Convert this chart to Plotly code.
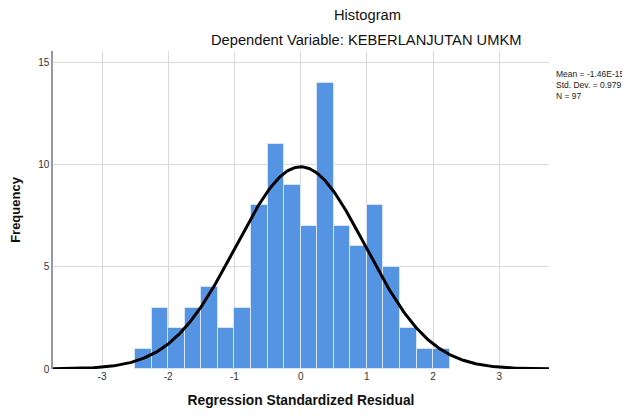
import numpy as np
import plotly.graph_objects as go

# Data
bin_starts = [-2.5, -2.25, -2.0, -1.75, -1.5, -1.25, -1.0, -0.75, -0.5, -0.25,
              0.0, 0.25, 0.5, 0.75, 1.0, 1.25, 1.5, 1.75, 2.0]
counts = [1, 3, 2, 3, 4, 2, 3, 8, 11, 9, 7, 14, 7, 6, 8, 5, 2, 1, 1]
bin_width = 0.25
mean_val = -1.46e-15
std_dev = 0.979
n_obs = 97
x_ticks = [-3, -2, -1, 0, 1, 2, 3]
y_ticks = [0, 5, 10, 15]

centers = [b + bin_width / 2 for b in bin_starts]
xs = np.linspace(-3.74, 3.75, 400)
ys = n_obs * bin_width / (std_dev * np.sqrt(2 * np.pi)) * np.exp(-0.5 * ((xs - mean_val) / std_dev) ** 2)

fig = go.Figure()
fig.add_trace(go.Bar(
    x=centers, y=counts, width=bin_width,
    marker=dict(color="#5594E2", line=dict(color="#D6E4F5", width=1)),
    showlegend=False, hoverinfo="x+y",
))
fig.add_trace(go.Scatter(
    x=xs, y=ys, mode="lines", line=dict(color="black", width=3),
    showlegend=False, hoverinfo="skip",
))

# page body adds an 8px offset; figure sized so window coords match reference
OFF = 8
W, H = 622, 408
L, T = 53 - OFF, 51 - OFF
plot_w, plot_h = 496, 318
R = W - L - plot_w
B = H - T - plot_h

def px_to_paper_x(px):
    return (px - OFF - L) / plot_w

def py_to_paper_y(py):
    return (H - B - (py - OFF)) / plot_h

font_family = "Liberation Sans, Arial, sans-serif"
fig.update_layout(
    width=W, height=H,
    margin=dict(l=L, r=R, t=T, b=B),
    paper_bgcolor="white", plot_bgcolor="white",
    font=dict(family=font_family, color="#222"),
    bargap=0,
    xaxis=dict(range=[-3.74, 3.75], tickvals=x_ticks, ticktext=[str(v) for v in x_ticks],
               showgrid=True, gridcolor="#DADADA", gridwidth=1, zeroline=False, automargin=False,
               showline=False, ticks="", tickfont=dict(size=10, color="#333"),
               title=dict(text="<b>Regression Standardized Residual</b>", font=dict(size=13.8, color="#111"), standoff=14)),
    yaxis=dict(range=[0, 15.54], tickvals=y_ticks, ticktext=[str(v) for v in y_ticks],
               showgrid=True, gridcolor="#DADADA", gridwidth=1, zeroline=False, automargin=False,
               showline=True, linecolor="#999", linewidth=1.5, ticks="",
               tickfont=dict(size=10, color="#333"),
               title=dict(text="<b>Frequency</b>", font=dict(size=13, color="#111"), standoff=16)),
    annotations=[
        dict(text="Histogram", x=px_to_paper_x(367), y=py_to_paper_y(15), xref="paper", yref="paper",
             xanchor="center", yanchor="middle",
             showarrow=False, font=dict(size=14.7, color="#111")),
        dict(text="Dependent Variable: KEBERLANJUTAN UMKM", x=px_to_paper_x(366), y=py_to_paper_y(40),
             xref="paper", yref="paper", xanchor="center", yanchor="middle",
             showarrow=False, font=dict(size=14.7, color="#111")),
        dict(text="Mean = -1.46E-15<br>Std. Dev. = 0.979<br>N = 97", xref="paper", yref="paper",
             x=px_to_paper_x(554), y=py_to_paper_y(67), xanchor="left", yanchor="top", align="left",
             showarrow=False, font=dict(size=8.5, color="#222")),
    ],
)

fig.write_html("out.html")
